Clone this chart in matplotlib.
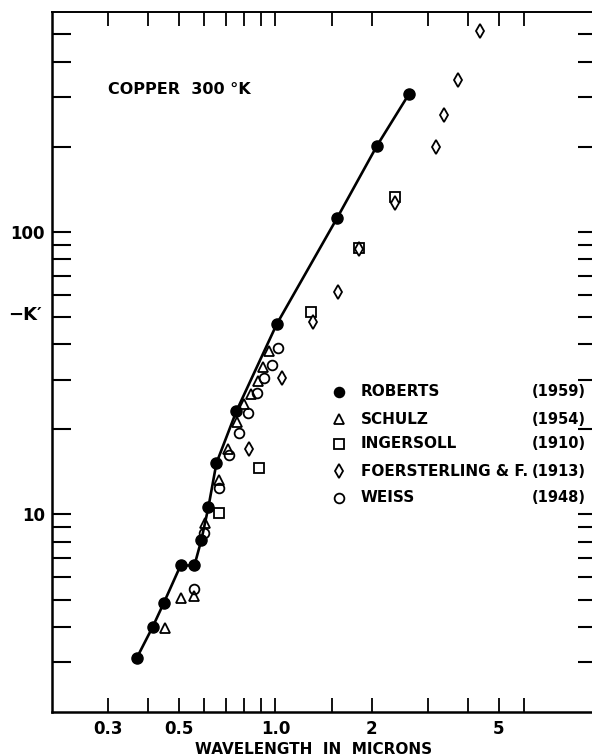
import matplotlib
matplotlib.use("Agg")
import matplotlib.pyplot as plt
from matplotlib.ticker import FixedLocator, NullFormatter

# optical constant -K' of copper at 300 K vs wavelength (microns)
roberts_x = [0.368, 0.413, 0.447, 0.505, 0.558, 0.587, 0.617, 0.654, 0.755, 1.01, 1.56, 2.08, 2.62]
roberts_y = [3.1, 4.0, 4.85, 6.6, 6.6, 8.15, 10.6, 15.2, 23.2, 47.2, 112, 202, 308]

schulz_x = [0.453, 0.505, 0.558, 0.604, 0.664, 0.713, 0.761, 0.800, 0.841, 0.885, 0.917, 0.958]
schulz_y = [3.97, 5.08, 5.16, 9.3, 13.2, 17.0, 21.2, 24.7, 26.6, 29.6, 33.2, 37.8]

ingersoll_x = [0.668, 0.891, 1.29, 1.82, 2.37]
ingersoll_y = [10.1, 14.6, 52, 88, 133]

foerst_x = [0.824, 1.05, 1.31, 1.57, 1.82, 2.37, 3.18, 3.37, 3.73, 4.37]
foerst_y = [17.1, 30.4, 48, 61.3, 87, 127, 199, 260, 346, 512]

weiss_x = [0.558, 0.600, 0.664, 0.718, 0.772, 0.818, 0.878, 0.924, 0.979, 1.022]
weiss_y = [5.46, 8.6, 12.4, 16.3, 19.5, 22.8, 26.9, 30.4, 33.8, 38.8]

legend_names = ["ROBERTS", "SCHULZ", "INGERSOLL", "FOERSTERLING & F.", "WEISS"]
legend_years = ["(1959)", "(1954)", "(1910)", "(1913)", "(1948)"]

x_major = [0.3, 0.5, 1.0, 2, 5]
x_major_labels = ["0.3", "0.5", "1.0", "2", "5"]
x_minor = [0.4, 0.6, 0.7, 0.8, 0.9, 1.5, 3, 4, 6]
y_major = [10, 100]
y_major_labels = ["10", "100"]
y_minor = [3, 4, 5, 6, 7, 8, 9, 20, 30, 40, 50, 60, 70, 80, 90, 200, 300, 400, 500]

plt.rcParams["font.family"] = ["DejaVu Sans"]
plt.rcParams["font.weight"] = "bold"

fig = plt.figure(figsize=(5.92, 7.56), dpi=100)
ax = fig.add_axes([52 / 592, 44 / 756, 543 / 592, 700 / 756])
ax.set_xscale("log")
ax.set_yscale("log")
ax.set_xlim(0.2, 10)
ax.set_ylim(2, 600)

ink = "black"
ax.plot(roberts_x, roberts_y, "-", color=ink, lw=1.9, zorder=3)
ax.plot(roberts_x, roberts_y, "o", ms=8, color=ink, zorder=4)
ax.plot(schulz_x, schulz_y, "^", ms=6.5, mfc="white", mec=ink, mew=1.3, zorder=2)
ax.plot(ingersoll_x, ingersoll_y, "s", ms=6.5, mfc="white", mec=ink, mew=1.3, zorder=2)
ax.plot(foerst_x, foerst_y, "d", ms=7, mfc="white", mec=ink, mew=1.3, zorder=2)
ax.plot(weiss_x, weiss_y, "o", ms=7, mfc="none", mec=ink, mew=1.3, zorder=2)

# legend drawn by hand so the years line up in their own column
leg_markers = [dict(marker="o", mfc=ink), dict(marker="^", mfc="white"),
               dict(marker="s", mfc="white"), dict(marker="d", mfc="white"),
               dict(marker="o", mfc="white")]
leg_rows = [392, 419, 444, 471, 498]
for name, year, mk, row in zip(legend_names, legend_years, leg_markers, leg_rows):
    yy = (712 - row) / 700
    ax.plot([0.529], [yy], transform=ax.transAxes, ms=7, mec=ink, mew=1.3,
            color=ink, ls="none", clip_on=False, **mk)
    ax.text(0.569, yy, name, transform=ax.transAxes, fontsize=11,
            va="center", ha="left")
    ax.text((586 - 52) / 543, yy, year, transform=ax.transAxes, fontsize=10.5,
            va="center", ha="right")

ax.text(0.103, 0.889, "COPPER  300 °K", transform=ax.transAxes, fontsize=11.5,
        va="center", ha="left")

ax.xaxis.set_major_locator(FixedLocator(x_major))
ax.xaxis.set_minor_locator(FixedLocator(x_minor))
ax.set_xticklabels(x_major_labels)
ax.xaxis.set_minor_formatter(NullFormatter())
ax.yaxis.set_major_locator(FixedLocator(y_major))
ax.yaxis.set_minor_locator(FixedLocator(y_minor))
ax.set_yticklabels(y_major_labels)
ax.yaxis.set_minor_formatter(NullFormatter())

ax.tick_params(axis="x", which="both", direction="in", top=True, bottom=True,
               length=10, width=1.3, pad=6, labelsize=12)
ax.tick_params(axis="y", which="both", direction="in", left=True, right=False,
               length=14, width=1.5, pad=5, labelsize=12)

# right-hand ticks are shorter
ax2 = ax.twinx()
ax2.set_yscale("log")
ax2.set_ylim(ax.get_ylim())
ax2.yaxis.set_major_locator(FixedLocator(y_major))
ax2.yaxis.set_minor_locator(FixedLocator(y_minor))
ax2.yaxis.set_major_formatter(NullFormatter())
ax2.yaxis.set_minor_formatter(NullFormatter())
ax2.tick_params(axis="y", which="both", direction="in", length=12, width=1.5)
for s in ax2.spines.values():
    s.set_visible(False)

ax.spines["left"].set_linewidth(1.8)
ax.spines["bottom"].set_linewidth(1.8)
ax.spines["top"].set_linewidth(1.4)
ax.spines["right"].set_visible(False)

fig.text(8 / 592, (756 - 315) / 756, "−K′", fontsize=13, va="center", ha="left")
fig.text(195 / 592, (756 - 742) / 756, "WAVELENGTH  IN  MICRONS", fontsize=11,
         va="top", ha="left")

fig.savefig("out.png", dpi=100)
